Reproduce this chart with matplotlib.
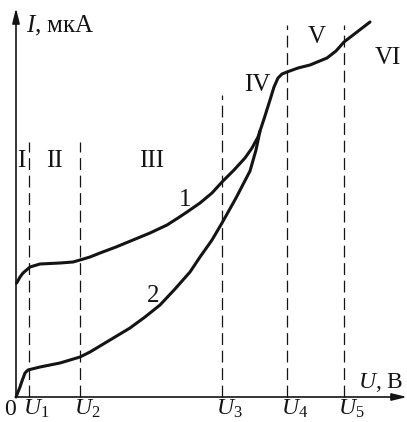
import matplotlib
matplotlib.use("Agg")
import matplotlib.pyplot as plt

plt.rcParams['font.family'] = ['Liberation Serif', 'DejaVu Serif']
plt.rcParams['mathtext.fontset'] = 'custom'
plt.rcParams['mathtext.rm'] = 'Liberation Serif'
plt.rcParams['mathtext.it'] = 'Liberation Serif:italic'

# Current-voltage characteristic of a gas discharge (arbitrary units)
curve1_u = [0.7, 4, 7, 14, 24, 44, 57, 64, 74, 84, 100, 117, 134, 151, 162, 171, 184, 196, 206, 218,
            229, 236, 242, 248, 254, 258, 262, 266, 271, 282, 294, 311, 320, 328, 341, 354]
curve1_i = [114, 120, 124, 130, 133, 134, 135, 137, 140, 144, 150, 157, 164, 172, 179, 185, 194, 204, 215, 227,
            239, 249, 260, 278, 297, 310, 319, 323, 325, 329, 332, 339, 346, 355, 365, 375]

curve2_u = [0, 2, 4, 6, 9, 12, 24, 44, 64, 74, 84, 99, 114, 129, 144, 159, 174, 184, 196, 206, 220, 234, 240, 244]
curve2_i = [0, 5, 10, 16, 24, 27, 30, 34, 40, 45, 51, 60, 69, 80, 92, 108, 125, 140, 157, 174, 199, 226, 247, 266]

# Boundary voltages U1..U5 and how high each dashed marker rises
bound_u = [13, 64, 206, 271, 328]
bound_top = [255, 255, 302, 372, 372]
bound_labels = ['$U_1$', '$U_2$', '$U_3$', '$U_4$', '$U_5$']

# Discharge regions
region_labels = ['I', 'II', 'III', 'IV', 'V', 'VI']
region_u = [5, 38, 136, 241, 301, 372]
region_i = [236, 236, 236, 312, 360, 339]

fig = plt.figure(figsize=(4.07, 4.22), dpi=100)
ax = fig.add_axes([0, 0, 1, 1])
ax.set_xlim(-16, 391)
ax.set_ylim(-25, 397)
ax.axis('off')

ink = '#141414'

# Axes with arrowheads
arrow = dict(arrowstyle='-|>,head_length=0.9,head_width=0.22', color=ink,
             lw=1.2, shrinkA=0, shrinkB=0)
ax.annotate('', xy=(0, 389), xytext=(0, 0), arrowprops=arrow)
ax.annotate('', xy=(391, 0), xytext=(0, 0), arrowprops=arrow)

# Region boundaries
for u, top in zip(bound_u, bound_top):
    ax.plot([u, u], [0, top], color=ink, lw=0.9, dashes=(9.5, 4.5))

ax.plot(curve1_u, curve1_i, color=ink, lw=2.2, solid_capstyle='round', solid_joinstyle='round')
ax.plot(curve2_u, curve2_i, color=ink, lw=2.2, solid_capstyle='round', solid_joinstyle='round')

fs = 18
ax.text(-12, -18, '0', fontsize=17, ha='left', va='baseline', color=ink)
for u, lab in zip(bound_u, bound_labels):
    ax.text(u - 6, -18, lab, fontsize=17, ha='left', va='baseline', color=ink)

ax.text(10, 365, '$I$, мкА', fontsize=fs, ha='left', va='baseline', color=ink)
ax.text(342, 9, '$U$, В', fontsize=17, ha='left', va='baseline', color=ink)

for lab, u, i in zip(region_labels, region_u, region_i):
    ax.text(u, i, lab, fontsize=fs, ha='center', va='center', color=ink)

ax.text(169, 197, '1', fontsize=fs, ha='center', va='center', color=ink)
ax.text(137, 101, '2', fontsize=fs, ha='center', va='center', color=ink)

fig.savefig('out.png', dpi=100)
